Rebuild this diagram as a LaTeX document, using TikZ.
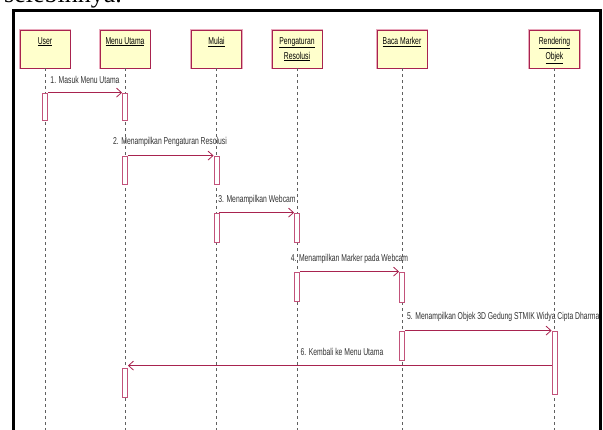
\documentclass[tikz,border=0pt]{standalone}
\usepackage{fontspec}
\setmainfont{Liberation Serif}
\newfontfamily\diagfont{Liberation Sans}
\usepackage{graphicx}
\usetikzlibrary{arrows.meta}

\definecolor{umlred}{HTML}{A8234F}
\definecolor{umlpink}{HTML}{E9A9BC}
\definecolor{headfill}{HTML}{FFFFCC}
\definecolor{actline}{HTML}{C2527A}
\definecolor{lifegray}{HTML}{606060}
\definecolor{txtgray}{HTML}{303030}

% condensed text, as in the modelling tool's export
\newcommand\narrow[1]{\scalebox{0.68}[1]{#1}}

\begin{document}
\begin{tikzpicture}[x=1pt,y=-1pt,
  headbox/.style={draw=umlred, line width=0.8pt, fill=headfill,
    minimum width=50pt, minimum height=38pt, inner sep=0pt,
    preaction={draw=umlpink, line width=2.2pt}},
  headtxt/.style={anchor=north, inner sep=0pt, align=center,
    font=\diagfont\fontsize{10}{15}\selectfont, text=black},
  lifeline/.style={draw=lifegray, line width=0.7pt, dash pattern=on 3pt off 3pt},
  act/.style={draw=actline, line width=0.8pt, fill=white,
    minimum width=5pt, inner sep=0pt},
  msg/.style={draw=umlred, line width=0.8pt,
    -{Straight Barb[length=5pt,width=9pt]}},
  msglbl/.style={inner sep=0pt, font=\diagfont\fontsize{10}{12}\selectfont, text=txtgray},
]
\path[use as bounding box] (0,0) rectangle (603,430);
\clip (0,0) rectangle (603,430);

% running text above the figure
\node[anchor=base west, inner sep=0pt, font=\fontsize{26}{30}\selectfont] (note) at (4,2.5) {selebihnya.};

% figure frame
\draw[line width=3pt] (13.5,440) -- (13.5,11) -- (600,11) -- (600,440);

% lifeline heads
\node[headbox] (user) at (45,49) {};
\node[headbox] (menu) at (125,49) {};
\node[headbox] (mulai) at (216.5,49) {};
\node[headbox] (resol) at (297,49) {};
\node[headbox] (baca) at (402,49) {};
\node[headbox] (render) at (554.5,49) {};

\node[headtxt] at ([yshift=-7.5pt]user.north) {\narrow{\underline{User}}};
\node[headtxt] at ([yshift=-7.5pt]menu.north) {\narrow{\underline{Menu Utama}}};
\node[headtxt] at ([yshift=-7.5pt]mulai.north) {\narrow{\underline{Mulai}}};
\node[headtxt] at ([yshift=-7.5pt]resol.north) {\narrow{\underline{Pengaturan}}\\\narrow{\underline{Resolusi}}};
\node[headtxt] at ([yshift=-7.5pt]baca.north) {\narrow{\underline{Baca Marker}}};
\node[headtxt] at ([yshift=-7.5pt]render.north) {\narrow{\underline{Rendering}}\\\narrow{\underline{Objek}}};

% lifelines
\coordinate (userEnd) at (45,432);
\coordinate (menuEnd) at (125,432);
\coordinate (mulaiEnd) at (216.5,432);
\coordinate (resolEnd) at (297,432);
\coordinate (bacaEnd) at (402,432);
\coordinate (renderEnd) at (554.5,432);
\draw[lifeline] (user.south) -- (userEnd);
\draw[lifeline] (menu.south) -- (menuEnd);
\draw[lifeline] (mulai.south) -- (mulaiEnd);
\draw[lifeline] (resol.south) -- (resolEnd);
\draw[lifeline] (baca.south) -- (bacaEnd);
\draw[lifeline] (render.south) -- (renderEnd);

% activation bars
\node[act, minimum height=27pt] (aU)   at (45,106.5) {};
\node[act, minimum height=27pt] (aM1)  at (125,106.5) {};
\node[act, minimum height=28pt] (aM2)  at (125,170) {};
\node[act, minimum height=28pt] (aMi1) at (216.5,170) {};
\node[act, minimum height=29pt] (aMi2) at (216.5,227.5) {};
\node[act, minimum height=29pt] (aP1)  at (297,227.5) {};
\node[act, minimum height=29pt] (aP2)  at (297,286.5) {};
\node[act, minimum height=30pt] (aB1)  at (402,287) {};
\node[act, minimum height=29pt] (aB2)  at (402,345.5) {};
\node[act, minimum height=63pt] (aR)   at (554.5,362.5) {};
\node[act, minimum height=29pt] (aM3)  at (125,382.5) {};

% messages
\draw[msg] (aU.north east) -- (aM1.north west);
\draw[msg] (aM2.north east) -- (aMi1.north west);
\draw[msg] (aMi2.north east) -- (aP1.north west);
\draw[msg] (aP2.north east) -- (aB1.north west);
\draw[msg] (aB2.north east) -- (aR.north west);
\coordinate (ret) at ([yshift=2pt]aM3.north east);
\draw[msg] (aR.west |- ret) -- (ret);

% message labels
\node[msglbl] (l1) at (85,80) {\narrow{1. Masuk Menu Utama}};
\node[msglbl] (l2) at (170,142) {\narrow{2. Menampilkan Pengaturan Resolusi}};
\node[msglbl] (l3) at (257,200) {\narrow{3. Menampilkan Webcam}};
\node[msglbl] (l4) at (349.5,259) {\narrow{4. Menampilkan Marker pada Webcam}};
\node[msglbl, anchor=west] (l5) at (407,317) {\narrow{5. Menampilkan Objek 3D Gedung STMIK Widya Cipta Dharma}};
\node[msglbl] (l6) at (342,352) {\narrow{6. Kembali ke Menu Utama}};
\end{tikzpicture}
\end{document}
